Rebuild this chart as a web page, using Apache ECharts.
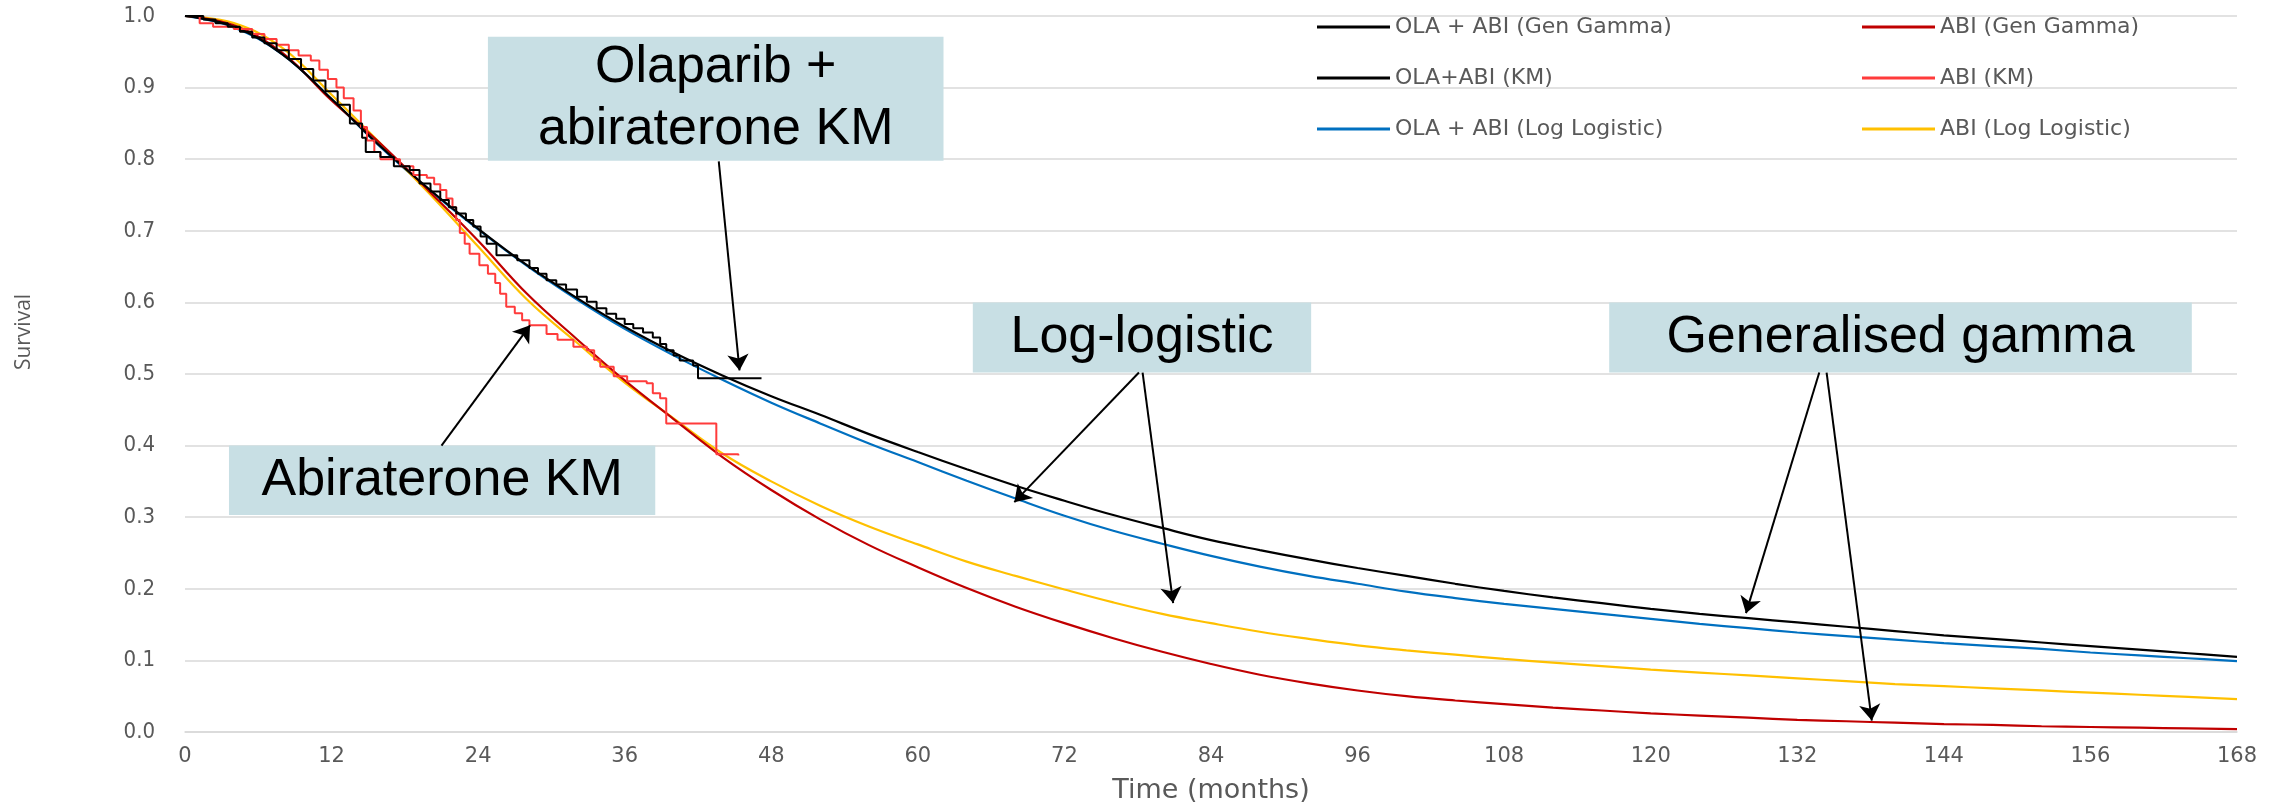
<!DOCTYPE html>
<html>
<head>
<meta charset="utf-8">
<title>Survival extrapolation</title>
<script src="https://cdn.jsdelivr.net/npm/echarts@6/dist/echarts.min.js"></script>
<style>
  html, body { margin: 0; padding: 0; background: #fff; }
  #chart { width: 2285px; height: 804px; }
</style>
</head>
<body>
<div id="chart"></div>
<script>
// time grid (months) for the fitted curves
var months = [0, 4, 8, 12, 16, 20, 24, 28, 32, 36, 40, 44, 48, 52, 56, 60, 64, 68, 72, 76, 80, 84,
  88, 92, 96, 100, 104, 108, 112, 116, 120, 124, 128, 132, 136, 140, 144, 148, 152, 156, 160, 164, 168];

// fitted survival
var olaGenGamma = [1.000, 0.985, 0.946, 0.884, 0.818, 0.758, 0.703, 0.652, 0.607, 0.566, 0.530, 0.498,
  0.469, 0.443, 0.416, 0.391, 0.367, 0.344, 0.323, 0.303, 0.285, 0.268, 0.254, 0.241, 0.229, 0.218,
  0.207, 0.197, 0.188, 0.180, 0.172, 0.165, 0.159, 0.153, 0.147, 0.141, 0.135, 0.130, 0.125, 0.120,
  0.115, 0.110, 0.105];
var olaLogLogistic = [1.000, 0.984, 0.946, 0.884, 0.817, 0.757, 0.702, 0.651, 0.605, 0.563, 0.526, 0.492,
  0.460, 0.431, 0.403, 0.377, 0.351, 0.326, 0.302, 0.281, 0.263, 0.246, 0.231, 0.218, 0.207, 0.196,
  0.187, 0.179, 0.172, 0.165, 0.158, 0.151, 0.145, 0.139, 0.134, 0.129, 0.124, 0.120, 0.116, 0.111,
  0.107, 0.103, 0.099];
var abiGenGamma = [1.000, 0.987, 0.948, 0.882, 0.822, 0.755, 0.686, 0.612, 0.550, 0.491, 0.437, 0.384,
  0.338, 0.297, 0.261, 0.230, 0.201, 0.175, 0.152, 0.131, 0.112, 0.095, 0.080, 0.068, 0.058, 0.050,
  0.044, 0.039, 0.034, 0.030, 0.026, 0.023, 0.020, 0.017, 0.015, 0.013, 0.011, 0.010, 0.008, 0.007,
  0.006, 0.005, 0.004];
var abiLogLogistic = [1.000, 0.990, 0.955, 0.890, 0.822, 0.752, 0.678, 0.604, 0.545, 0.488, 0.438, 0.389,
  0.350, 0.316, 0.287, 0.262, 0.238, 0.218, 0.199, 0.181, 0.165, 0.152, 0.140, 0.130, 0.121, 0.114,
  0.108, 0.102, 0.097, 0.092, 0.087, 0.083, 0.079, 0.075, 0.071, 0.067, 0.064, 0.061, 0.058, 0.055,
  0.052, 0.049, 0.046];

// Kaplan-Meier steps [month, survival after the step]
var olaKM = [[0, 1], [1.5, 0.995], [2.5, 0.99], [3.5, 0.985], [4.5, 0.978], [5.5, 0.97], [6.5, 0.962],
  [7.5, 0.952], [8.5, 0.94], [9.5, 0.926], [10.5, 0.91], [11.5, 0.895], [12.5, 0.876], [13.5, 0.85],
  [14.5, 0.83], [14.8, 0.81], [16, 0.803], [17.1, 0.79], [18.4, 0.785], [19.2, 0.766], [20.1, 0.755],
  [20.9, 0.743], [21.6, 0.733], [22.2, 0.724], [23, 0.715], [23.6, 0.706], [24.2, 0.692], [24.7, 0.682],
  [25.5, 0.666], [27.2, 0.659], [28.2, 0.648], [28.9, 0.64], [29.6, 0.631], [30.4, 0.625], [31.2, 0.618],
  [32.1, 0.608], [32.9, 0.601], [33.7, 0.592], [34.5, 0.584], [35.3, 0.577], [36, 0.57], [36.7, 0.564],
  [37.5, 0.558], [38.3, 0.551], [38.9, 0.542], [39.4, 0.533], [40, 0.526], [40.5, 0.519], [41.6, 0.512],
  [42, 0.494], [47.2, 0.494]];
var abiKM = [[0, 1], [1.2, 0.99], [2.3, 0.985], [4, 0.982], [5.5, 0.975], [6.5, 0.968], [7.5, 0.96],
  [8.5, 0.952], [9.3, 0.945], [10.3, 0.938], [11, 0.925], [11.7, 0.912], [12.4, 0.9], [13, 0.885],
  [13.8, 0.868], [14.4, 0.845], [14.9, 0.826], [15.5, 0.81], [16, 0.8], [17.6, 0.79], [18.7, 0.778],
  [19.8, 0.774], [20.4, 0.765], [20.9, 0.757], [21.4, 0.745], [21.9, 0.733], [22.2, 0.715], [22.5, 0.697],
  [22.9, 0.682], [23.3, 0.668], [24.1, 0.652], [24.8, 0.64], [25.4, 0.627], [25.8, 0.612], [26.3, 0.594],
  [27, 0.585], [27.6, 0.575], [28.2, 0.568], [29.6, 0.556], [30.5, 0.548], [31.8, 0.538], [32.9, 0.533],
  [33.5, 0.52], [34, 0.51], [35.1, 0.497], [36.2, 0.49], [37.8, 0.487], [38.3, 0.473], [38.9, 0.466],
  [39.4, 0.431], [43.5, 0.388], [45.3, 0.386]];

var seriesNames = ['OLA + ABI (Gen Gamma)', 'OLA+ABI (KM)', 'OLA + ABI (Log Logistic)',
  'ABI (Gen Gamma)', 'ABI (KM)', 'ABI (Log Logistic)'];

// callout boxes and arrows, in data units
var boxes = [
  { text: 'Olaparib +\nabiraterone KM', from: [24.8, 0.971], to: [62.1, 0.798] },
  { text: 'Abiraterone KM', from: [3.6, 0.400], to: [38.5, 0.303] },
  { text: 'Log-logistic', from: [64.5, 0.600], to: [92.2, 0.502] },
  { text: 'Generalised gamma', from: [116.6, 0.600], to: [164.3, 0.502] }
];
var arrows = [
  [[43.7, 0.797], [45.4, 0.505]],
  [[21.0, 0.400], [28.25, 0.568]],
  [[78.1, 0.502], [67.9, 0.321]],
  [[78.4, 0.502], [80.9, 0.180]],
  [[133.8, 0.502], [127.8, 0.166]],
  [[134.4, 0.502], [138.1, 0.016]]
];

function pairs(ys) {
  return months.map(function(m, i) { return [m, ys[i]]; });
}

var myChart = echarts.init(document.getElementById('chart'), null, { renderer: 'canvas' });

var legendText = { color: '#595959', fontSize: 22, fontFamily: 'DejaVu Sans', lineHeight: 22 };
var narrow = '"Liberation Sans Narrow", "DejaVu Sans Condensed", "DejaVu Sans", sans-serif';

var option = {
  animation: false,
  backgroundColor: '#ffffff',
  grid: { left: 185, right: 48, top: 16, bottom: 72, containLabel: false, outerBoundsMode: 'none' },
  legend: [
    {
      data: [seriesNames[0], seriesNames[1], seriesNames[2]],
      orient: 'vertical', left: 1317, top: 16, padding: 0,
      icon: 'rect', itemWidth: 73, itemHeight: 3, itemGap: 29,
      textStyle: legendText
    },
    {
      data: [seriesNames[3], seriesNames[4], seriesNames[5]],
      orient: 'vertical', left: 1862, top: 16, padding: 0,
      icon: 'rect', itemWidth: 73, itemHeight: 3, itemGap: 29,
      textStyle: legendText
    }
  ],
  xAxis: {
    type: 'value',
    min: 0, max: 168, interval: 12,
    name: 'Time (months)',
    nameLocation: 'middle',
    nameGap: 45,
    nameTextStyle: { color: '#595959', fontSize: 27, fontFamily: 'DejaVu Sans' },
    axisLine: { show: true, lineStyle: { color: '#D9D9D9', width: 1.5 } },
    axisTick: { show: false },
    splitLine: { show: false },
    axisLabel: { color: '#595959', fontSize: 21, fontFamily: 'DejaVu Sans', margin: 14 }
  },
  yAxis: {
    type: 'value',
    min: 0, max: 1, interval: 0.1,
    name: 'Survival',
    nameLocation: 'middle',
    nameRotate: 90,
    nameGap: 150,
    nameTextStyle: { color: '#595959', fontSize: 21, fontFamily: 'Open Sans', padding: [0, 0, 0, 84] },
    axisLine: { show: false },
    axisTick: { show: false },
    splitLine: { show: true, lineStyle: { color: '#D9D9D9', width: 1.5 } },
    axisLabel: {
      color: '#595959', fontSize: 22, fontFamily: narrow, margin: 30,
      formatter: function(v) { return v.toFixed(1); }
    }
  },
  series: [
    {
      name: seriesNames[2], type: 'line', data: pairs(olaLogLogistic),
      smooth: 0.4, symbol: 'none',
      lineStyle: { color: '#0070C0', width: 2.2 }, itemStyle: { color: '#0070C0' }
    },
    {
      name: seriesNames[5], type: 'line', data: pairs(abiLogLogistic),
      smooth: 0.4, symbol: 'none',
      lineStyle: { color: '#FFC000', width: 2.2 }, itemStyle: { color: '#FFC000' }
    },
    {
      name: seriesNames[3], type: 'line', data: pairs(abiGenGamma),
      smooth: 0.4, symbol: 'none',
      lineStyle: { color: '#C00000', width: 2.2 }, itemStyle: { color: '#C00000' }
    },
    {
      name: seriesNames[0], type: 'line', data: pairs(olaGenGamma),
      smooth: 0.4, symbol: 'none',
      lineStyle: { color: '#000000', width: 2.2 }, itemStyle: { color: '#000000' },
      markArea: {
        silent: true,
        itemStyle: { color: '#C8DFE4', opacity: 1 },
        label: {
          show: true, position: 'inside', color: '#000000',
          fontSize: 52, fontFamily: 'Liberation Sans', lineHeight: 62
        },
        data: boxes.map(function(b) {
          return [{ name: b.text, coord: b.from }, { coord: b.to }];
        })
      },
      markLine: {
        silent: true,
        symbol: ['none', 'arrow'],
        symbolSize: 16,
        label: { show: false },
        lineStyle: { color: '#000000', width: 2, type: 'solid' },
        emphasis: { disabled: true },
        data: arrows.map(function(a) {
          return [{ coord: a[0] }, { coord: a[1] }];
        })
      }
    },
    {
      name: seriesNames[4], type: 'line', data: abiKM, step: 'end', symbol: 'none',
      lineStyle: { color: '#FF3B3B', width: 2 }, itemStyle: { color: '#FF3B3B' }
    },
    {
      name: seriesNames[1], type: 'line', data: olaKM, step: 'end', symbol: 'none',
      lineStyle: { color: '#000000', width: 2 }, itemStyle: { color: '#000000' }
    }
  ]
};

myChart.setOption(option);

window.onresize = function() {
  myChart.resize();
};
</script>
</body>
</html>
